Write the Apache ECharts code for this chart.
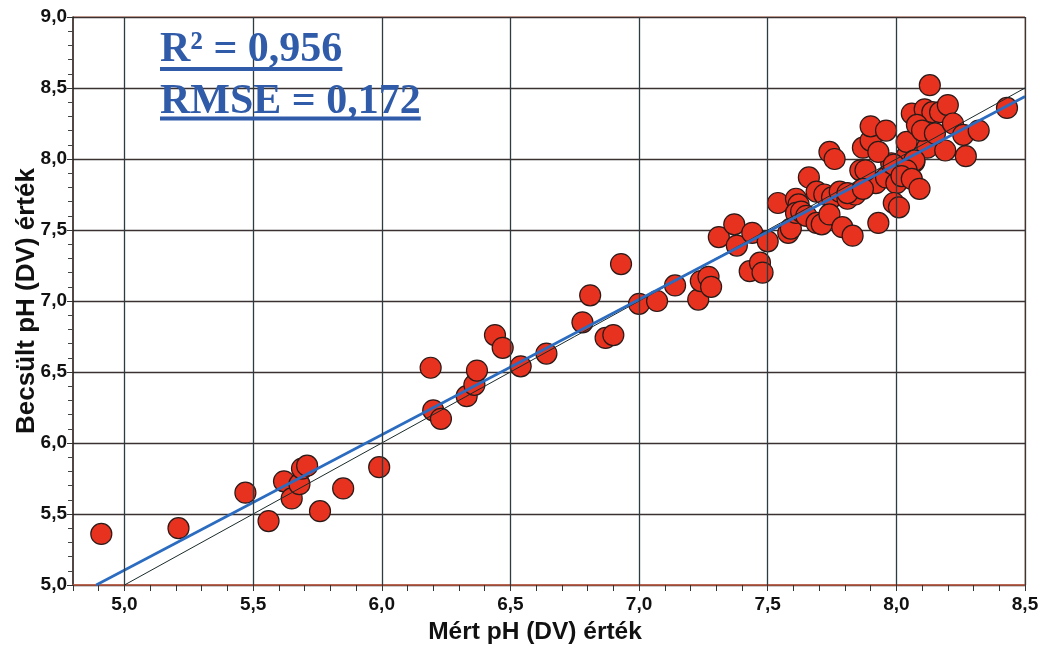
<!DOCTYPE html>
<html><head><meta charset="utf-8">
<script src="https://cdn.jsdelivr.net/npm/echarts@6/dist/echarts.min.js"></script>
<style>html,body{margin:0;padding:0;background:#fff}#c{width:1040px;height:655px}</style>
</head><body><div id="c"></div>
<script>
const measured = [
 4.91,5.21,5.47,5.56,5.62,5.65,5.68,5.69,5.71,5.76,5.85,5.99,
 6.19,6.20,6.23,6.33,6.36,6.37,6.44,6.47,6.54,6.64,6.78,6.81,6.87,6.90,6.93,7.00,7.07,7.14,7.23,7.24,7.27,7.28,
 7.31,7.37,7.38,7.44,7.50,7.43,7.47,7.48,
 7.54,7.58,7.59,7.61,7.62,7.61,7.63,7.65,7.66,7.69,7.72,7.75,7.78,7.81,7.84,7.74,7.76,7.69,7.71,7.74,7.79,7.83,
 7.81,7.88,7.92,7.96,8.00,8.02,8.05,8.07,7.98,8.04,
 7.86,7.88,7.87,7.87,7.90,7.90,7.96,7.93,8.04,8.12,8.19,8.27,7.99,8.07,8.04,8.02,8.06,8.09,7.99,8.01,7.93,
 8.13,8.06,8.11,8.14,8.17,8.20,8.08,8.10,8.15,8.22,8.26,8.32,8.43
];
const predicted = [
 5.36,5.40,5.65,5.45,5.73,5.61,5.71,5.82,5.84,5.52,5.68,5.83,
 6.53,6.23,6.17,6.33,6.41,6.51,6.76,6.67,6.54,6.63,6.85,7.04,6.74,6.76,7.26,6.98,7.00,7.11,7.01,7.14,7.17,7.10,
 7.45,7.54,7.39,7.48,7.42,7.21,7.27,7.20,
 7.69,7.48,7.51,7.72,7.68,7.62,7.63,7.60,7.87,7.77,7.75,7.73,7.77,7.72,7.75,8.05,8.00,7.55,7.54,7.61,7.52,7.46,
 7.76,7.81,7.83,7.87,7.83,7.89,7.94,7.98,7.97,8.02,
 7.92,7.92,7.79,8.08,8.13,8.23,8.20,8.05,8.12,8.08,8.06,8.02,7.96,7.99,7.92,7.88,7.86,7.79,7.69,7.66,7.55,
 8.52,8.32,8.35,8.33,8.33,8.38,8.24,8.20,8.18,8.25,8.17,8.20,8.36
];
// 1:1 line and fitted regression line endpoints
const identityX = [5.0, 8.5];
const identityY = [5.0, 8.5];
const fitX = [4.89, 8.5];
const fitY = [5.0, 8.44];
// Axis tick values
const xGridValues = [5.0, 5.5, 6.0, 6.5, 7.0, 7.5, 8.0, 8.5];
const xAxisTitle = 'Mért pH (DV) érték';
const yAxisTitle = 'Becsült pH (DV) érték';
const statLines = ['R² = 0,956', 'RMSE = 0,172'];

const fmt = v => v.toFixed(1).replace('.', ',');
const isHalf = v => Math.abs(v * 2 - Math.round(v * 2)) < 1e-6;

const chart = echarts.init(document.getElementById('c'), null, {renderer: 'canvas'});

const statFont = 'bold 42px "Liberation Serif", "Times New Roman", serif';
const mctx = document.createElement('canvas').getContext('2d');
mctx.font = statFont;
const statW = statLines.map(s => mctx.measureText(s).width);

const points = measured.map((x, i) => [x, predicted[i]]);
const sansFont = '"Liberation Sans", Arial, sans-serif';

chart.setOption({
  animation: false,
  backgroundColor: '#ffffff',
  grid: {left: 73, right: 15, top: 17, bottom: 70, containLabel: false, outerBoundsMode: 'none',
    show: true, borderColor: '#d27458', borderWidth: 1, backgroundColor: 'transparent'},
  xAxis: {
    type: 'value', min: 4.8, max: 8.5, interval: 0.1,
    name: xAxisTitle, nameLocation: 'middle', nameGap: 35,
    nameTextStyle: {fontFamily: sansFont, fontWeight: 'bold', fontSize: 24.5, color: '#111', padding: [0, 28, 0, 0]},
    axisLine: {show: true, onZero: false, lineStyle: {color: '#b8563e', width: 1.5}},
    axisTick: {show: true, length: 6, lineStyle: {color: '#333', width: 1}},
    axisLabel: {fontFamily: sansFont, fontWeight: 'bold', fontSize: 19, color: '#111', margin: 10,
      formatter: v => isHalf(v) ? fmt(v) : '', hideOverlap: false, showMinLabel: true, showMaxLabel: true},
    splitLine: {show: false}
  },
  yAxis: {
    type: 'value', min: 5, max: 9, interval: 0.5,
    name: yAxisTitle, nameLocation: 'middle', nameGap: 33, nameMoveOverlap: false,
    nameTextStyle: {fontFamily: sansFont, fontWeight: 'bold', fontSize: 26, color: '#111'},
    axisLine: {show: true, lineStyle: {color: '#222', width: 1.5}},
    axisTick: {show: true, length: 6, lineStyle: {color: '#333'}},
    minorTick: {show: true, splitNumber: 5, length: 5, lineStyle: {color: '#444'}},
    axisLabel: {fontFamily: sansFont, fontWeight: 'bold', fontSize: 19, color: '#111', margin: 6, formatter: fmt},
    splitLine: {show: true, lineStyle: {color: '#3a3230', width: 1.3}}
  },
  series: [
    {
      type: 'scatter', data: [], z: 1, silent: true,
      markLine: {
        silent: true, symbol: ['none', 'none'], animation: false,
        label: {show: false},
        lineStyle: {color: '#2e3c41', width: 1.3, type: 'solid'},
        data: xGridValues.map(v => ({xAxis: v}))
      }
    },
    {
      type: 'scatter', data: points, z: 2, symbol: 'circle', symbolSize: 21,
      itemStyle: {color: '#e6321f', borderColor: '#2b1a18', borderWidth: 1.2, opacity: 1}
    },
    {
      type: 'line', data: identityX.map((x, i) => [x, identityY[i]]), z: 3, symbol: 'none',
      lineStyle: {color: '#1a2a2a', width: 1}
    },
    {
      type: 'line', data: fitX.map((x, i) => [x, fitY[i]]), z: 4, symbol: 'none',
      lineStyle: {color: '#2b6cc0', width: 2.6}
    }
  ],
  graphic: [
    {type: 'text', left: 160, top: 29, z: 10, style: {text: statLines[0], font: statFont, fill: '#2f5ba9'}},
    {type: 'rect', shape: {x: 160, y: 67, width: statW[0], height: 4}, z: 10, style: {fill: '#2f5ba9'}},
    {type: 'text', left: 160, top: 81, z: 10, style: {text: statLines[1], font: statFont, fill: '#2f5ba9'}},
    {type: 'rect', shape: {x: 160, y: 116.5, width: statW[1], height: 4}, z: 10, style: {fill: '#2f5ba9'}}
  ]
});
</script>
</body></html>
